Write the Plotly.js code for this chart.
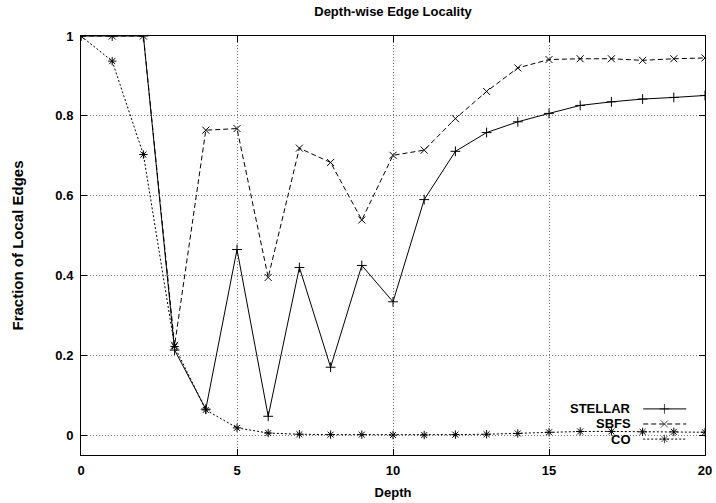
<!DOCTYPE html>
<html>
<head>
<meta charset="utf-8">
<script src="https://cdn.plot.ly/plotly-3.0.1.min.js"></script>
<style>
  html, body { margin: 0; padding: 0; background: #fff; }
  #chart { width: 716px; height: 503px; }
</style>
</head>
<body>
<div id="chart"></div>
<script>
// Fraction of edges that stay local, per BFS depth
const depth = [0, 1, 2, 3, 4, 5, 6, 7, 8, 9, 10, 11, 12, 13, 14, 15, 16, 17, 18, 19, 20];

const stellar = [1.0, 1.0, 1.0, 0.213, 0.065, 0.465, 0.047, 0.42, 0.17, 0.425, 0.334,
                 0.59, 0.711, 0.758, 0.785, 0.806, 0.826, 0.835, 0.842, 0.846, 0.851];
const sbfs    = [1.0, 1.0, 1.0, 0.225, 0.764, 0.768, 0.395, 0.719, 0.683, 0.539, 0.701,
                 0.714, 0.793, 0.861, 0.92, 0.941, 0.943, 0.943, 0.939, 0.943, 0.945];
const co      = [1.0, 0.937, 0.703, 0.222, 0.063, 0.018, 0.005, 0.002, 0.001, 0.001, 0.0,
                 0.0, 0.001, 0.002, 0.004, 0.007, 0.009, 0.009, 0.008, 0.008, 0.007];

const seriesNames = ['STELLAR', 'SBFS', 'CO'];
const xTicks = [0, 5, 10, 15, 20];
const yTicks = [0, 0.2, 0.4, 0.6, 0.8, 1];

const FONT = 'Liberation Sans, Arial, Helvetica, sans-serif';
const INK = '#000';

const styles = [
  { dash: 'solid',   symbol: 'cross-thin-open' },
  { dash: '5px,3px', symbol: 'x-thin-open' },
  { dash: '2px,2px', symbol: 'asterisk-open' }
];
const values = [stellar, sbfs, co];

const traces = values.map((ys, i) => ({
  x: depth,
  y: ys,
  type: 'scatter',
  mode: 'lines+markers',
  name: seriesNames[i],
  showlegend: false,
  line: { color: INK, width: 1, dash: styles[i].dash },
  marker: { symbol: styles[i].symbol, size: 7, color: INK, line: { color: INK, width: 1 } },
  hoverinfo: 'x+y+name'
}));

// gnuplot-style key: label on the left, line sample on the right
const keyRows = [0.110, 0.074, 0.038];
const keySample = [0.901, 0.935, 0.970];
const annotations = [];
seriesNames.forEach((name, i) => {
  traces.push({
    x: keySample,
    y: [keyRows[i], keyRows[i], keyRows[i]],
    xaxis: 'x2', yaxis: 'y2',
    type: 'scatter',
    mode: 'lines+markers',
    showlegend: false,
    hoverinfo: 'skip',
    line: { color: INK, width: 1, dash: styles[i].dash },
    marker: { symbol: styles[i].symbol, size: [0, 7, 0], color: INK, line: { color: INK, width: 1 } }
  });
  annotations.push({
    text: name,
    xref: 'paper', yref: 'paper',
    x: 0.885, y: keyRows[i],
    xanchor: 'right', yanchor: 'middle',
    showarrow: false,
    font: { family: FONT, size: 13, color: INK, weight: 'bold' }
  });
});

const axisCommon = {
  showline: true, linecolor: INK, linewidth: 1, mirror: 'ticks',
  ticks: 'inside', ticklen: 6, tickwidth: 1, tickcolor: INK,
  showgrid: true, gridcolor: '#777', gridwidth: 1, griddash: '1px,2px',
  zeroline: false,
  tickfont: { family: FONT, size: 13, color: INK, weight: 'bold' }
};

const layout = {
  width: 716, height: 503,
  paper_bgcolor: '#fff', plot_bgcolor: '#fff',
  margin: { l: 81, r: 11, t: 36, b: 48 },
  showlegend: false,
  title: {
    text: 'Depth-wise Edge Locality',
    x: 0.5, xref: 'paper', xanchor: 'center',
    y: 1 - 11 / 503, yref: 'container', yanchor: 'middle',
    font: { family: FONT, size: 13, color: INK, weight: 'bold' }
  },
  xaxis: Object.assign({}, axisCommon, {
    range: [0, 20],
    tickmode: 'array', tickvals: xTicks,
    ticklabelstandoff: 3,
    title: { text: 'Depth', standoff: 11, font: { family: FONT, size: 13, color: INK, weight: 'bold' } }
  }),
  yaxis: Object.assign({}, axisCommon, {
    range: [-0.05, 1],
    tickmode: 'array', tickvals: yTicks,
    ticklabelstandoff: 4,
    title: { text: 'Fraction of Local Edges', standoff: 28, font: { family: FONT, size: 15, color: INK, weight: 'bold' } }
  }),
  xaxis2: { overlaying: 'x', range: [0, 1], visible: false, fixedrange: true },
  yaxis2: { overlaying: 'y', range: [0, 1], visible: false, fixedrange: true },
  annotations: annotations
};

Plotly.newPlot('chart', traces, layout, { displayModeBar: false, staticPlot: true });
</script>
</body>
</html>
